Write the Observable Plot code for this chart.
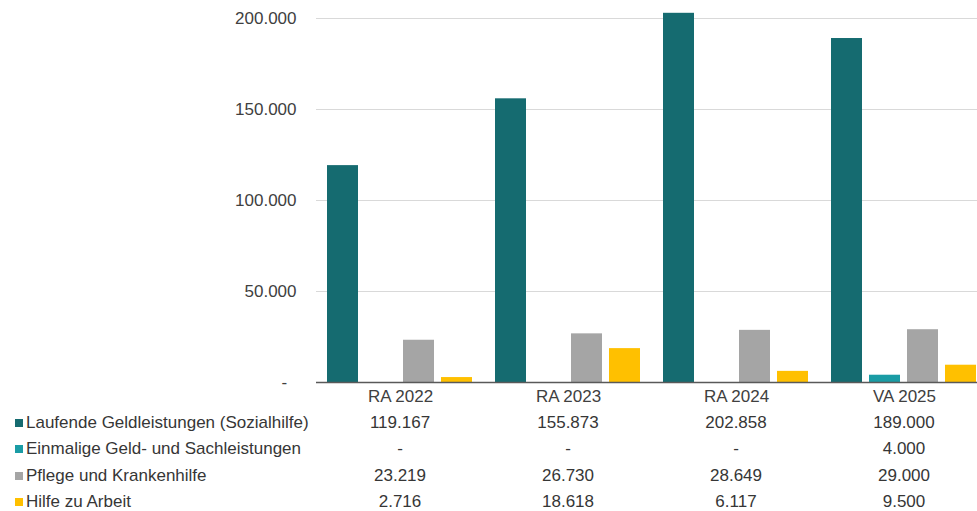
<!DOCTYPE html>
<html>
<head>
<meta charset="utf-8">
<script src="https://cdn.jsdelivr.net/npm/d3@7"></script>
<script src="https://cdn.jsdelivr.net/npm/@observablehq/plot@0.6"></script>
<style>
  html, body { margin: 0; padding: 0; background: #fff; overflow: hidden; }
  #wrap { position: relative; width: 977px; height: 511px; overflow: hidden; font-family: "Liberation Sans", Arial, sans-serif; color: #404040; }
  #wrap svg { display: block; }
  table { position: absolute; top: 409.5px; left: 0; width: 988px; table-layout: fixed; border-collapse: collapse; font-size: 17px; color: #363636; }
  td { padding: 0; height: 26.6px; line-height: 26.6px; white-space: nowrap; }
  td.num { text-align: center; }
  td.lab { padding-left: 15px; }
  .sw { display: inline-block; width: 8px; height: 8px; margin-right: 3px; vertical-align: 1px; }
</style>
</head>
<body>
<div id="wrap"></div>
<script>
const categories = ["RA 2022", "RA 2023", "RA 2024", "VA 2025"];
const series = [
  "Laufende Geldleistungen (Sozialhilfe)",
  "Einmalige Geld- und Sachleistungen",
  "Pflege und Krankenhilfe",
  "Hilfe zu Arbeit"
];
const laufende = [119167, 155873, 202858, 189000];
const einmalige = [null, null, null, 4000];
const pflege = [23219, 26730, 28649, 29000];
const hilfe = [2716, 18618, 6117, 9500];
const colors = ["#156b70", "#1a9ca5", "#a5a5a5", "#ffc000"];
const yTicks = [0, 50000, 100000, 150000, 200000];

const seriesValues = [laufende, einmalige, pflege, hilfe];
const rows = [];
series.forEach((s, i) => categories.forEach((c, j) => rows.push({ cat: c, series: s, value: seriesValues[i][j] })));

const de = d3.formatLocale({ decimal: ",", thousands: ".", grouping: [3], currency: ["", "€"] });
const fmt = de.format(",.0f");
const tickFmt = v => v === 0 ? "-\u00a0\u00a0" : fmt(v);
const cellFmt = v => (v == null || v === 0) ? "-" : fmt(v);

const chart = Plot.plot({
  width: 977,
  height: 409,
  marginLeft: 316,
  marginRight: -11,
  marginTop: 18,
  marginBottom: 27,
  style: { fontFamily: "'Liberation Sans', Arial, sans-serif", fontSize: "17px", color: "#404040", background: "#fff" },
  fx: { domain: categories, padding: 0, label: null },
  x: { domain: series, paddingInner: 0.18, paddingOuter: 0.27, axis: null },
  y: { domain: [0, 200000], label: null },
  color: { domain: series, range: colors },
  marks: [
    Plot.gridY(yTicks, { stroke: "#d9d9d9", strokeOpacity: 1 }),
    Plot.axisY(yTicks, { tickSize: 0, tickPadding: 20, tickFormat: tickFmt, label: null }),
    Plot.axisFx({ anchor: "bottom", tickSize: 0, tickPadding: 7, label: null }),
    Plot.barY(rows.filter(d => d.value != null), { fx: "cat", x: "series", y: "value", fill: "series" }),
    Plot.ruleY([0], { stroke: "#595959", strokeWidth: 1.3 })
  ]
});
document.getElementById("wrap").appendChild(chart);

const table = document.createElement("table");
const colgroup = document.createElement("colgroup");
colgroup.innerHTML = `<col style="width:316px">` + categories.map(() => `<col style="width:168px">`).join("");
table.appendChild(colgroup);
series.forEach((s, i) => {
  const tr = document.createElement("tr");
  const lab = document.createElement("td");
  lab.className = "lab";
  const sw = document.createElement("span");
  sw.className = "sw";
  sw.style.background = colors[i];
  lab.appendChild(sw);
  lab.appendChild(document.createTextNode(s));
  tr.appendChild(lab);
  seriesValues[i].forEach(v => {
    const td = document.createElement("td");
    td.className = "num";
    td.textContent = cellFmt(v);
    tr.appendChild(td);
  });
  table.appendChild(tr);
});
document.getElementById("wrap").appendChild(table);
</script>
</body>
</html>
